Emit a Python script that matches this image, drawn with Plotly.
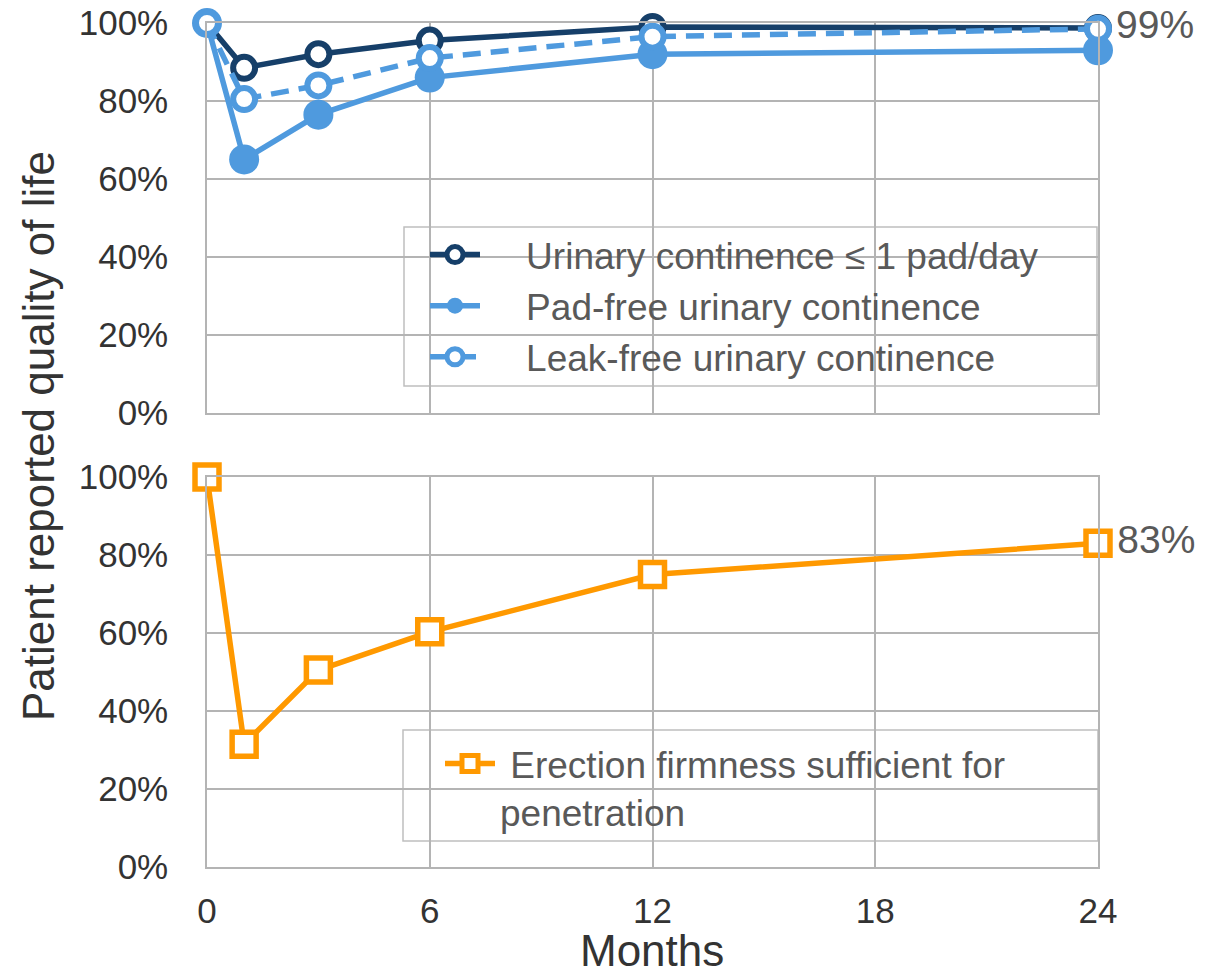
import plotly.graph_objects as go
from plotly.subplots import make_subplots

months = [0, 1, 3, 6, 12, 24]
pad_le1 = [100, 88.5, 92, 95.5, 99, 98.7]
pad_free = [100, 65, 76.5, 86, 92, 93]
leak_free = [100, 80.5, 84, 91, 96.5, 98.5]
erection = [100, 31.5, 50.5, 60.3, 75, 83]

label_top = ["", "", "", "", "", "\u200a99%"]
label_bot = ["", "", "", "", "", "\u200a83%"]

PAD = "\u00a0\u00a0\u00a0\u00a0"
names = [PAD + "Urinary continence \u2264 1 pad/day",
         PAD + "Pad-free urinary continence",
         PAD + "Leak-free urinary continence",
         "\u00a0Erection firmness sufficient for<br>penetration"]

NAVY = "#163f69"
BLUE = "#4f9ade"
ORANGE = "#ff9900"
GRID = "#b4b4b4"
FONT = "Liberation Sans, Arial, sans-serif"

# plot area in target (window) pixels
PL, PR, PT, PB = 207, 1098, 23, 867
PW, PH = PR - PL, PB - PT
OFF = 8  # browser body margin
W, H = 1206 - OFF, 974 - OFF


def px(x):
    return (x - PL) / PW


def py(y):
    return (PB - y) / PH


fig = make_subplots(rows=2, cols=1, shared_xaxes=True, vertical_spacing=0.076)

fig.add_trace(go.Scatter(
    x=months, y=pad_le1, name=names[0], mode="lines+markers+text",
    text=label_top, textposition="middle right",
    textfont=dict(size=39, color="#595959", family=FONT),
    line=dict(color=NAVY, width=5.5),
    marker=dict(symbol="circle", size=22, color="white", line=dict(color=NAVY, width=6)),
    cliponaxis=False, legend="legend"), row=1, col=1)

fig.add_trace(go.Scatter(
    x=months, y=pad_free, name=names[1], mode="lines+markers",
    line=dict(color=BLUE, width=5.5),
    marker=dict(symbol="circle", size=30, color=BLUE),
    cliponaxis=False, legend="legend"), row=1, col=1)

fig.add_trace(go.Scatter(
    x=months, y=leak_free, name=names[2], mode="lines+markers",
    line=dict(color=BLUE, width=5.5, dash="18px,10px"),
    marker=dict(symbol="circle", size=22, color="white", line=dict(color=BLUE, width=6)),
    cliponaxis=False, legend="legend"), row=1, col=1)

fig.add_trace(go.Scatter(
    x=months, y=erection, name=names[3], mode="lines+markers+text",
    text=label_bot, textposition="middle right",
    textfont=dict(size=39, color="#595959", family=FONT),
    line=dict(color=ORANGE, width=5.5),
    marker=dict(symbol="square", size=24, color="white", line=dict(color=ORANGE, width=5.5)),
    cliponaxis=False, legend="legend2"), row=2, col=1)

axis_common = dict(showgrid=True, gridcolor=GRID, gridwidth=1.5,
                   showline=True, linecolor=GRID, linewidth=1.5, mirror=True,
                   zeroline=False, automargin=False, ticklabeloverflow="allow")

for r in (1, 2):
    fig.update_yaxes(range=[0, 100], tickvals=[0, 20, 40, 60, 80, 100],
                     ticktext=["0%", "20%", "40%", "60%", "80%", "100%"],
                     tickfont=dict(size=35, color="#333333", family=FONT),
                     ticklabelstandoff=30, ticks="", row=r, col=1, **axis_common)
    fig.update_xaxes(range=[0, 24], tickvals=[0, 6, 12, 18, 24], ticks="",
                     row=r, col=1, **axis_common)

fig.update_xaxes(showticklabels=False, row=1, col=1)
fig.update_xaxes(tickfont=dict(size=35, color="#333333", family=FONT),
                 ticklabelstandoff=12, row=2, col=1)

# legend boxes
fig.add_shape(type="rect", xref="paper", yref="paper",
              x0=px(404), x1=px(1097), y0=py(386), y1=py(227),
              line=dict(color="#bfbfbf", width=1.5), fillcolor="white", layer="below")
fig.add_shape(type="rect", xref="paper", yref="paper",
              x0=px(403), x1=px(1098), y0=py(841), y1=py(730),
              line=dict(color="#bfbfbf", width=1.5), fillcolor="white", layer="below")

legend_font = dict(size=37, color="#595959", family=FONT)
fig.update_layout(
    legend=dict(x=px(425), y=py(224), xanchor="left", yanchor="top",
                bgcolor="rgba(0,0,0,0)", borderwidth=0, font=legend_font,
                itemwidth=50, tracegroupgap=0),
    legend2=dict(x=px(440), y=py(733), xanchor="left", yanchor="top",
                 bgcolor="rgba(0,0,0,0)", borderwidth=0, font=legend_font, itemwidth=50,
                 valign="top"),
)

fig.add_annotation(text="Patient reported quality of life", xref="paper", yref="paper",
                   x=px(38), y=py(436), textangle=-90,
                   showarrow=False, xanchor="center", yanchor="middle",
                   font=dict(size=44, color="#333333", family=FONT))
fig.add_annotation(text="Months", xref="paper", yref="paper",
                   x=px(652), y=py(950),
                   showarrow=False, xanchor="center", yanchor="middle",
                   font=dict(size=44, color="#333333", family=FONT))

fig.update_layout(width=W, height=H,
                  margin=dict(l=PL - OFF, r=W - (PR - OFF), t=PT - OFF, b=H - (PB - OFF)),
                  plot_bgcolor="white", paper_bgcolor="white", showlegend=True)

fig.write_html("out.html")
